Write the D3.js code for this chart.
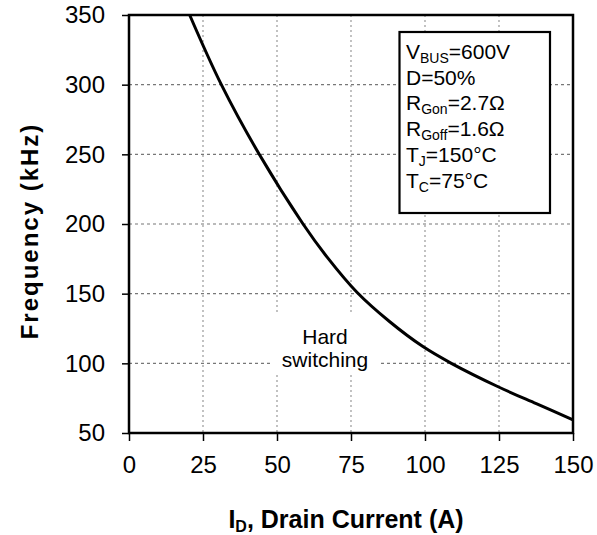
<!DOCTYPE html>
<html><head><meta charset="utf-8">
<script src="https://cdn.jsdelivr.net/npm/d3@7/dist/d3.min.js"></script>
<style>body{margin:0;background:#fff}svg{display:block}text{font-family:"Liberation Sans",Arial,sans-serif}</style>
</head><body>
<script>
const currentA = [20.5, 31.2, 44, 58.8, 67, 77, 88, 99.3, 108.9, 124.7, 137.6, 150];
const freqKHz  = [350, 300, 250, 200, 176, 151, 130, 112, 100, 83.2, 71, 59.5];
const xTicks = [0, 25, 50, 75, 100, 125, 150];
const yTicks = [50, 100, 150, 200, 250, 300, 350];
const legendLines = [["V","BUS","=600V"],["D","","=50%"],["R","Gon","=2.7Ω"],["R","Goff","=1.6Ω"],["T","J","=150°C"],["T","C","=75°C"]];

const W=597,H=535, L=129, R=573, T=15, B=433;
const svg=d3.select("body").append("svg").attr("width",W).attr("height",H);
const x=d3.scaleLinear().domain([0,150]).range([L,R]);
const y=d3.scaleLinear().domain([50,350]).range([B,T]);

// grid
svg.append("g").selectAll("line").data(yTicks.slice(1,-1)).join("line")
  .attr("x1",L).attr("x2",R).attr("y1",d=>y(d)).attr("y2",d=>y(d))
  .attr("stroke","#777").attr("stroke-width",1.2).attr("stroke-dasharray","3,3");
svg.append("g").selectAll("line").data(xTicks.slice(1,-1)).join("line")
  .attr("y1",T).attr("y2",B).attr("x1",d=>x(d)).attr("x2",d=>x(d))
  .attr("stroke","#999").attr("stroke-width",1.2).attr("stroke-dasharray","2,3");

// white box for Hard switching label
svg.append("rect").attr("x",272).attr("y",313).attr("width",106).attr("height",61).attr("fill","#fff");

// curve
const pts=currentA.map((c,i)=>[c,freqKHz[i]]);
svg.append("path").datum(pts)
  .attr("d",d3.line().x(d=>x(d[0])).y(d=>y(d[1])).curve(d3.curveCatmullRom.alpha(0.5)))
  .attr("fill","none").attr("stroke","#000").attr("stroke-width",3);

// axes
const xa=svg.append("g").attr("transform",`translate(0,${B})`)
  .call(d3.axisBottom(x).tickValues(xTicks).tickSize(8).tickPadding(15).tickFormat(d3.format("d")));
const ya=svg.append("g").attr("transform",`translate(${L},0)`)
  .call(d3.axisLeft(y).tickValues(yTicks).tickSize(7).tickPadding(17).tickFormat(d3.format("d")));
[xa,ya].forEach(a=>{a.select(".domain").remove();
  a.selectAll(".tick line").attr("stroke","#000").attr("stroke-width",1.5);
  a.selectAll("text").attr("font-size",24).attr("fill","#000").attr("font-family","Liberation Sans, Arial, sans-serif");});

// frame
svg.append("rect").attr("x",L).attr("y",T).attr("width",R-L).attr("height",B-T)
  .attr("fill","none").attr("stroke","#000").attr("stroke-width",2.5);

// hard switching text
svg.append("text").attr("x",325).attr("y",344).attr("text-anchor","middle").attr("font-size",21).text("Hard");
svg.append("text").attr("x",325).attr("y",367).attr("text-anchor","middle").attr("font-size",21).text("switching");

// legend box
svg.append("rect").attr("x",399.5).attr("y",32).attr("width",150.5).attr("height",181)
  .attr("fill","#fff").attr("stroke","#000").attr("stroke-width",2.2);
legendLines.forEach((l,i)=>{
  const t=svg.append("text").attr("x",406).attr("y",59+i*25.7).attr("font-size",21);
  t.append("tspan").text(l[0]);
  if(l[1]) t.append("tspan").attr("font-size",14).attr("dy",4).text(l[1]);
  t.append("tspan").attr("dy",l[1]?-4:0).text(l[2]);
});

// axis titles
svg.append("text").attr("transform","translate(38,231) rotate(-90)").attr("text-anchor","middle")
  .attr("font-size",24).attr("letter-spacing",2).attr("font-weight","bold").text("Frequency (kHz)");
const xt=svg.append("text").attr("x",346).attr("y",528).attr("text-anchor","middle")
  .attr("font-size",25).attr("font-weight","bold");
xt.append("tspan").text("I");
xt.append("tspan").attr("font-size",16).attr("dy",4).text("D");
xt.append("tspan").attr("dy",-4).text(", Drain Current (A)");
</script>
</body></html>
